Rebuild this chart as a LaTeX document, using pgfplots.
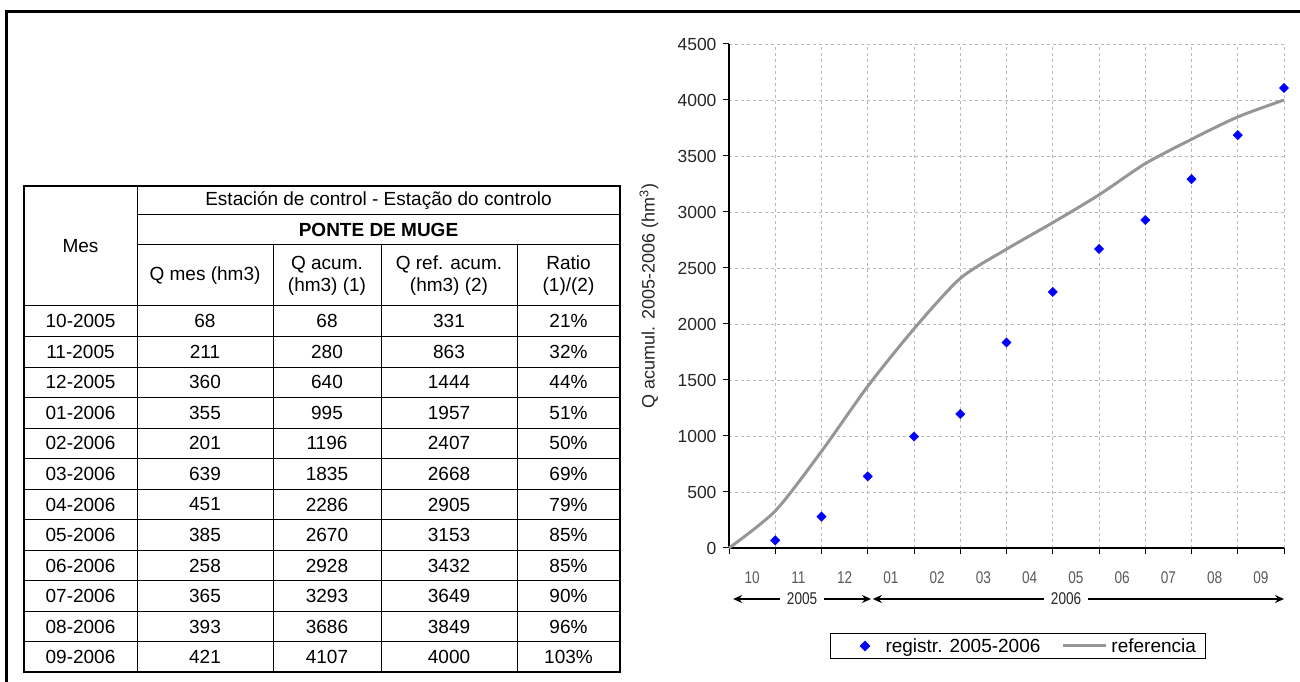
\documentclass[border=0pt]{standalone}
\usepackage{fontspec}
\setmainfont{Liberation Sans}
\newfontfamily\narrowfont[FakeStretch=0.8]{Liberation Sans}
\usepackage{pgfplots}
\usepackage{pgfplotstable}
\pgfplotsset{compat=1.18}
\usetikzlibrary{arrows.meta}

\definecolor{refgray}{RGB}{150,150,150}
\definecolor{gridgray}{RGB}{185,185,185}
\definecolor{ptblue}{RGB}{0,0,255}

\pgfplotsset{
  markleg/.style={legend image code/.code={\path (-28pt,0pt) (16pt,0pt);
    \draw[##1] plot coordinates {(0pt,0pt)};}},
  lineleg/.style={legend image code/.code={\draw[##1] (0pt,0pt) -- (43pt,0pt);}},
}

% monthly data, Ponte de Muge
\pgfplotstableread{
mes qmes qacum qref ratio
10-2005 68 68 331 21
11-2005 211 280 863 32
12-2005 360 640 1444 44
01-2006 355 995 1957 51
02-2006 201 1196 2407 50
03-2006 639 1835 2668 69
04-2006 451 2286 2905 79
05-2006 385 2670 3153 85
06-2006 258 2928 3432 85
07-2006 365 3293 3649 90
08-2006 393 3686 3849 96
09-2006 421 4107 4000 103
}\datatable

\begin{document}
\begin{tikzpicture}[x=1pt,y=1pt]
\useasboundingbox (0,0) rectangle (1300,682);

% outer frame
\draw[line width=3pt] (6,-2) -- (6,670) -- (1302,670);

% ---- table ----
\begin{scope}[every node/.style={font=\fontsize{19}{22}\selectfont, inner sep=0pt}]
\draw[line width=1pt] (137,467) -- (620,467);
\draw[line width=1pt] (137,437) -- (620,437);
\draw[line width=1pt] (24,376) -- (620,376);
\foreach \k in {1,...,11}{
  \draw[line width=1pt] (24,{376-30.54*\k}) -- (620,{376-30.54*\k});
}
\draw[line width=1pt] (137,496) -- (137,9.5);
\foreach \xv in {273,381,517}{
  \draw[line width=1pt] (\xv,437) -- (\xv,9.5);
}
\draw[line width=2pt] (24,9.5) rectangle (620,496);

\node at (80.5,436) {Mes};
\node at (378.5,481.5) {Estación de control - Estação do controlo};
\node[font=\fontsize{19}{22}\selectfont\bfseries] at (378.5,452) {PONTE DE MUGE};
\node at (205,406.5) {Q mes (hm3)};
\node[align=center] at (327,406.5) {Q acum.\\(hm3) (1)};
\node[align=center] at (449,406.5) {Q ref. acum.\\(hm3) (2)};
\node[align=center] at (568.5,406.5) {Ratio\\(1)/(2)};

\foreach \r in {0,...,11}{
  \pgfmathsetmacro\yc{376-30.54*(\r+0.5)}
  \pgfplotstablegetelem{\r}{mes}\of\datatable\let\cmes\pgfplotsretval
  \pgfplotstablegetelem{\r}{qmes}\of\datatable\let\cqmes\pgfplotsretval
  \pgfplotstablegetelem{\r}{qacum}\of\datatable\let\cqacum\pgfplotsretval
  \pgfplotstablegetelem{\r}{qref}\of\datatable\let\cqref\pgfplotsretval
  \pgfplotstablegetelem{\r}{ratio}\of\datatable\let\cratio\pgfplotsretval
  \node at (80.5,\yc) {\cmes};
  \node at (205,\yc) {\cqmes};
  \node at (327,\yc) {\cqacum};
  \node at (449,\yc) {\cqref};
  \node at (568.5,\yc) {\cratio\%};
}
\end{scope}

% ---- chart ----
\begin{axis}[
  at={(729pt,134pt)}, anchor=south west,
  scale only axis, width=555pt, height=504pt,
  xmin=0, xmax=12, ymin=0, ymax=4500,
  axis x line*=bottom, axis y line*=left,
  axis line style={-, black, line width=1.2pt},
  xtick={0,...,12}, xticklabels={},
  ytick={0,500,...,4500},
  extra x ticks={0.5,1.5,...,11.5},
  extra x tick labels={10,11,12,01,02,03,04,05,06,07,08,09},
  extra x tick style={grid=none, major tick length=0pt,
    tick label style={font=\narrowfont\fontsize{17}{17}\selectfont, text=black!65, yshift=-20pt}},
  grid=major,
  major grid style={gridgray, dash pattern=on 3pt off 3pt, line width=0.8pt},
  tick align=outside, major tick length=6pt,
  tick style={black, line width=1pt},
  /pgf/number format/assume math mode=true,
  /pgf/number format/1000 sep={},
  yticklabel style={font=\fontsize{17.5}{17.5}\selectfont, text=black!85, xshift=-3pt},
  ylabel={Q acumul. 2005-2006 (hm\textsuperscript{3})},
  ylabel style={at={(axis description cs:-0.121,0.5)}, rotate=0, anchor=south,
    font=\fontsize{18}{18}\selectfont, text=black!85},
  clip=false,
  legend columns=2,
  legend style={at={(axis description cs:0.182,-0.1944)}, anchor=west,
    draw=black, line width=1pt, font=\fontsize{19}{19}\selectfont,
    inner xsep=6pt, inner ysep=4pt,
    nodes={inner xsep=4pt, inner ysep=1pt},
    /tikz/every even column/.append style={column sep=17pt}},
]
\addplot[only marks, mark=square*, mark options={rotate=45}, mark size=3.3pt,
  color=ptblue, markleg]
  table[x expr=\coordindex+1, y=qacum] {\datatable};
\addlegendentry{registr. 2005-2006}
\addplot[refgray, line width=3pt, smooth, tension=0.45, mark=none, lineleg]
  coordinates {(0,0) (1,331) (2,863) (3,1444) (4,1957) (5,2407) (6,2668)
    (7,2905) (8,3153) (9,3432) (10,3649) (11,3849) (12,4000)};
\addlegendentry{referencia}

\draw[line width=1.2pt, {Stealth[length=9pt,width=8pt]}-{Stealth[length=9pt,width=8pt]}]
  ([yshift=-51pt]axis cs:0.09,0) -- ([yshift=-51pt]axis cs:3.07,0)
  node[midway, fill=white, inner xsep=7pt, text=black!85,
    font=\narrowfont\fontsize{17}{17}\selectfont] {2005};
\draw[line width=1.2pt, {Stealth[length=9pt,width=8pt]}-{Stealth[length=9pt,width=8pt]}]
  ([yshift=-51pt]axis cs:3.11,0) -- ([yshift=-51pt]axis cs:12,0)
  node[pos=0.47, fill=white, inner xsep=7pt, text=black!85,
    font=\narrowfont\fontsize{17}{17}\selectfont] {2006};
\end{axis}
\end{tikzpicture}
\end{document}
